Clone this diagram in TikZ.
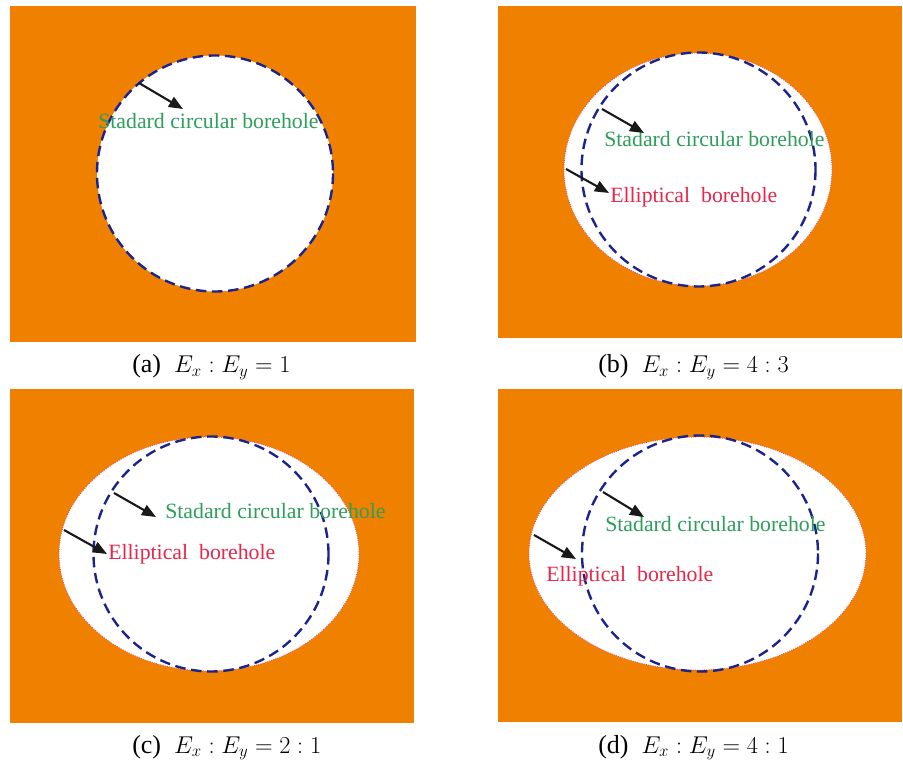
\documentclass[tikz,border=0pt]{standalone}
\usepackage{fontspec}
\setmainfont{Liberation Serif}
\usepackage{tikz}
\usetikzlibrary{arrows.meta}
\definecolor{rockorange}{RGB}{240,128,0}
\definecolor{holeblue}{RGB}{28,36,140}
\definecolor{labelgreen}{RGB}{46,158,92}
\definecolor{labelred}{RGB}{232,38,74}
\tikzset{
  hole/.style={fill=white, draw=labelred!85, line width=0.6pt, densely dotted},
  circhole/.style={draw=holeblue, line width=1.7pt, dash pattern=on 7.5pt off 4pt},
  pointer/.style={-{Triangle[length=10pt,width=8pt]}, line width=1.5pt, black!90},
  circlabel/.style={anchor=base west, inner sep=0pt, text=labelgreen, font=\fontsize{15.5}{18}\selectfont},
  elllabel/.style={circlabel, text=labelred},
  caption/.style={anchor=base west, inner sep=0pt, font=\fontsize{18.5}{21}\selectfont}
}

\begin{document}
\begin{tikzpicture}[x=0.025cm, y=-0.025cm]
    \useasboundingbox (0,0) rectangle (903,760);
    \foreach \XA/\YA/\XB/\YB in {10/6/416/342, 498/6/902/338, 10/389/414/723, 498/389/902/722}{
    \fill[rockorange] (\XA,\YA) rectangle (\XB,\YB);
       };
    % (a)
    \draw[circhole, fill=white] (215,173.5) circle [radius=118];
    \node[circlabel] (sa) at (98,129) {Stadard circular borehole};
    \coordinate (sa-tail) at (139,83);
    \coordinate (sa-tip) at (183,109);
    \draw[pointer] (sa-tail) -- (sa-tip);
    \node[caption] (capa) at (132,373) {(a)~~$E_x : E_y = 1$};
    % (b)
    \draw[hole] (698,169.5) ellipse [x radius=134, y radius=116.5];
    \draw[circhole] (698.5,169.5) circle [radius=117];
    \node[circlabel] (sb) at (604,147) {Stadard circular borehole};
    \node[elllabel] (eb) at (610,203) {Elliptical\ \ borehole};
    \coordinate (sb-tail) at (602,109);
    \coordinate (sb-tip) at (644,133);
    \coordinate (eb-tail) at (566,169);
    \coordinate (eb-tip) at (609,193);
    \draw[pointer] (sb-tail) -- (sb-tip);
    \draw[pointer] (eb-tail) -- (eb-tip);
    \node[caption] (capb) at (598,373) {(b)~~$E_x : E_y = 4 : 3$};
    % (c)
    \draw[hole] (209,554) ellipse [x radius=150, y radius=117];
    \draw[circhole] (211,554) circle [radius=117.5];
    \node[circlabel] (sc) at (165,519) {Stadard circular borehole};
    \node[elllabel] (ec) at (108,560) {Elliptical\ \ borehole};
    \coordinate (sc-tail) at (114,493);
    \coordinate (sc-tip) at (156,517);
    \coordinate (ec-tail) at (64,530);
    \coordinate (ec-tip) at (107,554);
    \draw[pointer] (sc-tail) -- (sc-tip);
    \draw[pointer] (ec-tail) -- (ec-tip);
    \node[caption] (capc) at (132,753) {(c)~~$E_x : E_y = 2 : 1$};
    % (d)
    \draw[hole] (697.5,553.5) ellipse [x radius=168.5, y radius=116.5];
    \draw[circhole] (700,553.5) circle [radius=118];
    \node[circlabel] (sd) at (605,532) {Stadard circular borehole};
    \node[elllabel] (ed) at (546,582) {Elliptical\ \ borehole};
    \coordinate (sd-tail) at (603,492);
    \coordinate (sd-tip) at (644,517);
    \coordinate (ed-tail) at (534,535);
    \coordinate (ed-tip) at (576,559);
    \draw[pointer] (sd-tail) -- (sd-tip);
    \draw[pointer] (ed-tail) -- (ed-tip);
    \node[caption] (capd) at (598,753) {(d)~~$E_x : E_y = 4 : 1$};
\end{tikzpicture}
\end{document}
